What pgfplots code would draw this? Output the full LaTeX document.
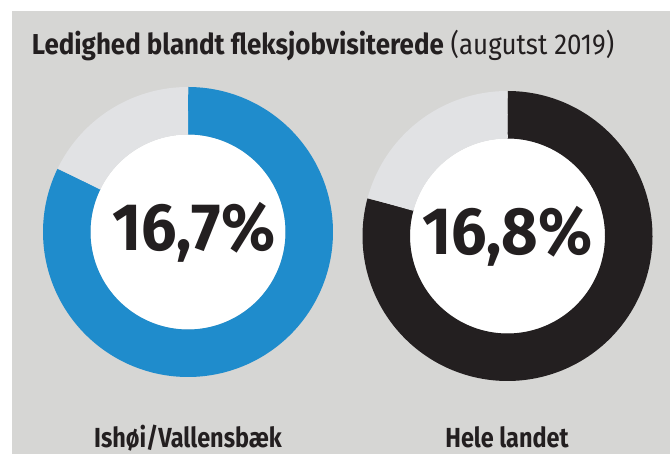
\documentclass[border=0pt]{standalone}
\usepackage{fontspec}
\setmainfont{Fira Sans}
\newfontfamily\titlefont{Fira Sans}[FakeStretch=0.9]
\newfontfamily\condfont{Fira Sans}[FakeStretch=0.85]
\newfontfamily\numfont{Fira Sans}[FakeStretch=0.94]
\usepackage{pgfplots}
\pgfplotsset{compat=1.18}
\definecolor{bg}{RGB}{214,214,212}
\definecolor{ringblue}{RGB}{31,140,204}
\definecolor{ringblack}{RGB}{35,31,32}
\definecolor{rest}{RGB}{225,226,228}
\definecolor{txt}{RGB}{35,31,32}
\begin{document}
\begin{tikzpicture}[x=1bp,y=1bp]
\useasboundingbox (0,0) rectangle (670,454);
\clip (0,0) rectangle (670,454);
\fill[white] (0,0) rectangle (670,454);
\fill[bg] (12,0) rectangle (670,443);
\node[anchor=base west, inner sep=0, text=txt, font=\titlefont\fontsize{28.8bp}{32bp}\selectfont] at (31.7,399.7) {\textbf{Ledighed blandt fleksjobvisiterede} (augutst 2019)};
% left donut
\begin{axis}[at={(188,222)}, anchor=center, x=1bp, y=1bp, xmin=-150, xmax=150, ymin=-150, ymax=150, hide axis, clip=false]
\fill[white] (axis cs:0,0) circle[radius=97.5];
\addplot[ringblue, line width=47.5bp, domain=0:82.2, samples=200] ({121.25*cos(90-3.6*x)},{121.25*sin(90-3.6*x)});
\addplot[rest, line width=47.5bp, domain=82.2:100, samples=60] ({121.25*cos(90-3.6*x)},{121.25*sin(90-3.6*x)});
\end{axis}
% right donut
\begin{axis}[at={(507.5,218)}, anchor=center, x=1bp, y=1bp, xmin=-150, xmax=150, ymin=-150, ymax=150, hide axis, clip=false]
\fill[white] (axis cs:0,0) circle[radius=97.5];
\addplot[ringblack, line width=47.5bp, domain=0:79.2, samples=200] ({121.25*cos(90-3.6*x)},{121.25*sin(90-3.6*x)});
\addplot[rest, line width=47.5bp, domain=79.2:100, samples=60] ({121.25*cos(90-3.6*x)},{121.25*sin(90-3.6*x)});
\end{axis}
\node[anchor=base, inner sep=0, text=txt, font=\numfont\bfseries\fontsize{67bp}{70bp}\selectfont] at (194,203) {16,7\%};
\node[anchor=base, inner sep=0, text=txt, font=\numfont\bfseries\fontsize{67bp}{70bp}\selectfont] at (507.5,199) {16,8\%};
\node[anchor=base, inner sep=0, text=txt, font=\condfont\bfseries\fontsize{27.6bp}{30bp}\selectfont] at (188,6) {Ishøi/Vallensbæk};
\node[anchor=base, inner sep=0, text=txt, font=\condfont\bfseries\fontsize{27.6bp}{30bp}\selectfont] at (507,6) {Hele landet};
\end{tikzpicture}
\end{document}
